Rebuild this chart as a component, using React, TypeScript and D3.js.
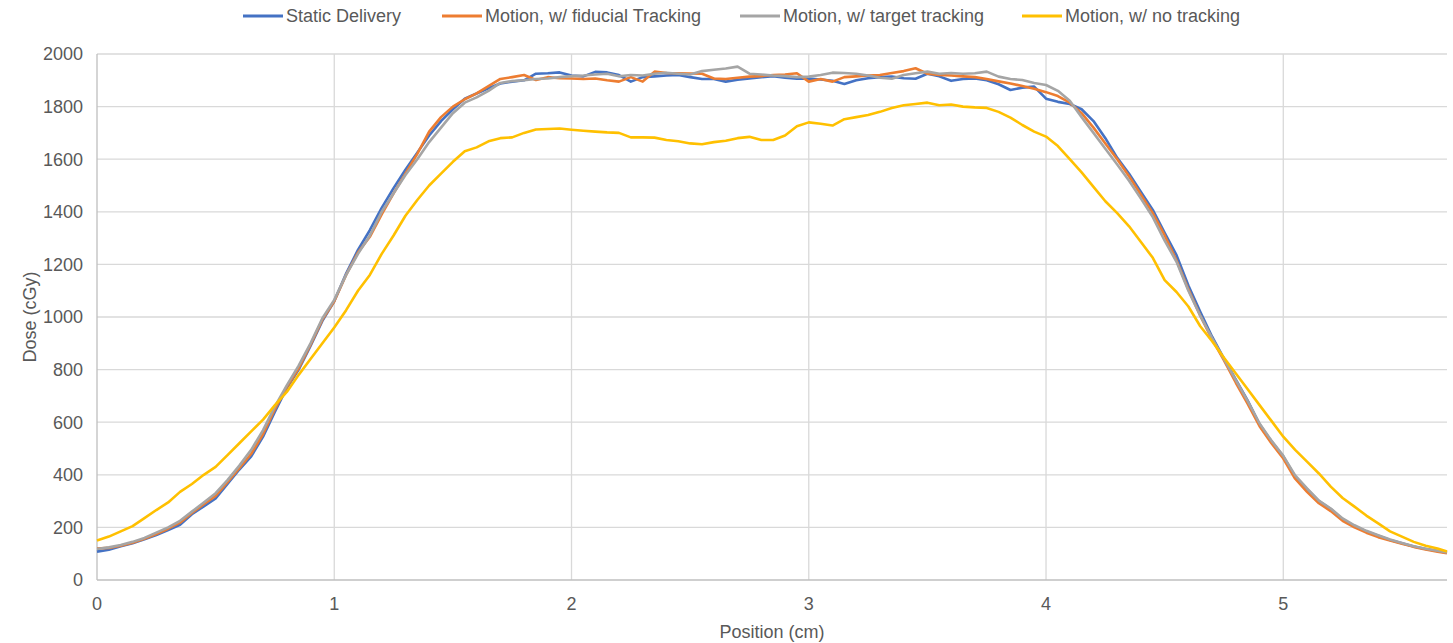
import React from 'react'
import * as d3 from 'd3'

// position (cm)
const positions = [
  0.0, 0.05, 0.1, 0.15, 0.2, 0.25, 0.3, 0.35, 0.4, 0.45, 0.5, 0.55, 0.6, 0.65, 0.7, 0.75, 0.8, 0.85, 0.9, 0.95,
  1.0, 1.05, 1.1, 1.15, 1.2, 1.25, 1.3, 1.35, 1.4, 1.45, 1.5, 1.55, 1.6, 1.65, 1.7, 1.75, 1.8, 1.85, 1.9, 1.95,
  2.0, 2.05, 2.1, 2.15, 2.2, 2.25, 2.3, 2.35, 2.4, 2.45, 2.5, 2.55, 2.6, 2.65, 2.7, 2.75, 2.8, 2.85, 2.9, 2.95,
  3.0, 3.05, 3.1, 3.15, 3.2, 3.25, 3.3, 3.35, 3.4, 3.45, 3.5, 3.55, 3.6, 3.65, 3.7, 3.75, 3.8, 3.85, 3.9, 3.95,
  4.0, 4.05, 4.1, 4.15, 4.2, 4.25, 4.3, 4.35, 4.4, 4.45, 4.5, 4.55, 4.6, 4.65, 4.7, 4.75, 4.8, 4.85, 4.9, 4.95,
  5.0, 5.05, 5.1, 5.15, 5.2, 5.25, 5.3, 5.35, 5.4, 5.45, 5.5, 5.55, 5.6, 5.65, 5.69,
]

const staticDelivery = [
  108, 115, 128, 140, 155, 171, 190, 210, 250, 280, 310, 365, 420, 470, 545, 640, 730, 800, 890, 985,
  1060, 1165, 1255, 1330, 1415, 1490, 1560, 1625, 1690, 1745, 1790, 1830, 1850, 1870, 1888, 1895, 1900, 1925, 1927, 1930,
  1918, 1915, 1932, 1930, 1920, 1895, 1912, 1915, 1918, 1920, 1912, 1905, 1905, 1895, 1902, 1907, 1912, 1916, 1910, 1906,
  1907, 1903, 1898, 1886, 1900, 1908, 1912, 1914, 1908, 1906, 1925, 1915, 1898, 1905, 1907, 1900, 1885, 1863, 1872, 1876,
  1830, 1818, 1810, 1790, 1745, 1680, 1605, 1545, 1475, 1407, 1320, 1235, 1120, 1020, 925, 842, 762, 682, 592, 527,
  470, 392, 345, 300, 270, 230, 205, 185, 168, 152, 140, 127, 118, 110, 104,
]

const fiducialTracking = [
  120, 122, 130, 142, 157, 175, 195, 218, 255, 288, 320, 372, 425, 480, 555, 650, 735, 805, 895, 990,
  1060, 1160, 1245, 1305, 1390, 1470, 1545, 1620, 1705, 1760, 1800, 1828, 1850, 1878, 1905, 1912, 1920, 1901, 1912, 1908,
  1907, 1905, 1907, 1900, 1895, 1912, 1895, 1933, 1928, 1927, 1926, 1925, 1907, 1905, 1910, 1914, 1916, 1920, 1922, 1927,
  1895, 1905, 1895, 1912, 1915, 1918, 1920, 1928, 1935, 1946, 1925, 1920, 1918, 1915, 1912, 1905, 1896, 1888, 1878, 1868,
  1855, 1840, 1815, 1775, 1720, 1660, 1600, 1535, 1465, 1395, 1310, 1215, 1105, 1005, 915, 835, 750, 670, 585, 520,
  462, 385, 335, 292, 262, 225, 200, 180, 163, 150, 138, 126, 116, 108, 102,
]

const targetTracking = [
  118, 124, 133, 145, 160, 180, 200, 225, 260, 295, 330, 380, 435, 495, 570, 660, 740, 815, 900, 995,
  1065, 1160, 1240, 1310, 1400, 1470, 1540, 1600, 1665, 1720, 1775, 1815, 1835, 1860, 1890, 1897, 1900, 1905, 1907, 1912,
  1916, 1918, 1922, 1925, 1915, 1920, 1918, 1925, 1929, 1925, 1922, 1935, 1940, 1945, 1952, 1925, 1922, 1918, 1916, 1912,
  1914, 1920, 1929, 1928, 1925, 1918, 1910, 1906, 1920, 1927, 1933, 1925, 1928, 1925, 1927, 1933, 1914, 1905, 1901, 1890,
  1882, 1860, 1822, 1760, 1700, 1640, 1580, 1518, 1450, 1380, 1290, 1210, 1100, 1005, 920, 840, 760, 680, 595, 530,
  472, 398, 348, 302, 272, 234, 208, 187, 170, 154, 141, 128, 119, 111, 105,
]

const noTracking = [
  150, 165, 185, 205, 235, 266, 295, 335, 365, 400, 430, 475, 520, 565, 610, 665, 715, 780, 840, 900,
  960, 1026, 1100, 1160, 1240, 1310, 1385, 1445, 1500, 1545, 1590, 1630, 1645, 1668, 1680, 1683, 1700, 1713, 1715, 1717,
  1712, 1708, 1705, 1702, 1700, 1683, 1683, 1682, 1673, 1668, 1660, 1657, 1665, 1670, 1680, 1685, 1673, 1673, 1690, 1725,
  1740, 1735, 1728, 1752, 1760, 1768, 1780, 1795, 1805, 1810, 1815, 1805, 1808, 1800, 1797, 1795, 1780, 1758, 1730, 1705,
  1686, 1650, 1600, 1550, 1495, 1440, 1395, 1345, 1285, 1225, 1140, 1095, 1040, 965, 908, 845, 785, 725, 665, 605,
  545, 495, 450, 405, 355, 312, 279, 245, 215, 185, 165, 145, 130, 120, 108,
]

const seriesNames = ['Static Delivery', 'Motion, w/ fiducial Tracking', 'Motion, w/ target tracking', 'Motion, w/ no tracking']
const seriesColors = ['#4472C4', '#ED7D31', '#A5A5A5', '#FFC000']
const seriesValues = [staticDelivery, fiducialTracking, targetTracking, noTracking]

const yTicks = [0, 200, 400, 600, 800, 1000, 1200, 1400, 1600, 1800, 2000]
const xTicks = [0, 1, 2, 3, 4, 5]

const W = 1453
const H = 643
const margin = { top: 54, right: 6, bottom: 63, left: 97 }
const font = '"Liberation Sans", Arial, sans-serif'
const textColor = '#595959'

export default function App() {
  const x = d3.scaleLinear().domain([0, 5.69]).range([margin.left, W - margin.right])
  const y = d3.scaleLinear().domain([0, 2000]).range([H - margin.bottom, margin.top])

  const line = d3
    .line<[number, number]>()
    .x((d) => x(d[0]))
    .y((d) => y(d[1]))

  // legend item starts (left edge of the line sample)
  const legendX = [243, 442, 740, 1022]

  return (
    <svg width={W} height={H} style={{ position: 'absolute', left: 0, top: 0, background: '#fff' }} fontFamily={font}>
      {/* grid */}
      {yTicks.slice(1).map((t) => (
        <line key={'gy' + t} x1={x(0)} x2={W - margin.right} y1={y(t)} y2={y(t)} stroke="#d9d9d9" strokeWidth={1.3} />
      ))}
      {xTicks.slice(1).map((t) => (
        <line key={'gx' + t} x1={x(t)} x2={x(t)} y1={y(0)} y2={y(2000)} stroke="#d9d9d9" strokeWidth={1.3} />
      ))}
      {/* axes */}
      <line x1={x(0)} x2={x(0)} y1={y(0)} y2={y(2000)} stroke="#bfbfbf" strokeWidth={1.3} />
      <line x1={x(0)} x2={W - margin.right} y1={y(0)} y2={y(0)} stroke="#bfbfbf" strokeWidth={1.3} />

      {yTicks.map((t) => (
        <text key={'ty' + t} x={x(0) - 14} y={y(t)} dy="0.35em" textAnchor="end" fontSize={18} fill={textColor}>
          {t}
        </text>
      ))}
      {xTicks.map((t) => (
        <text key={'tx' + t} x={x(t)} y={y(0) + 30} textAnchor="middle" fontSize={18} fill={textColor}>
          {t}
        </text>
      ))}

      <text x={772} y={638} textAnchor="middle" fontSize={18} fill={textColor}>
        Position (cm)
      </text>
      <text transform={`translate(36, ${y(1000)}) rotate(-90)`} textAnchor="middle" fontSize={18} fill={textColor}>
        Dose (cGy)
      </text>

      {/* series */}
      {seriesValues.map((vals, i) => (
        <path
          key={seriesNames[i]}
          d={line(positions.map((p, j) => [p, vals[j]] as [number, number])) || ''}
          fill="none"
          stroke={seriesColors[i]}
          strokeWidth={2.6}
          strokeLinejoin="round"
        />
      ))}

      {/* legend */}
      {seriesNames.map((name, i) => (
        <g key={'lg' + i} transform={`translate(${legendX[i]}, 16)`}>
          <line x1={0} x2={40} y1={0} y2={0} stroke={seriesColors[i]} strokeWidth={3} />
          <text x={43} y={0} dy="0.35em" fontSize={18} fill={textColor}>
            {name}
          </text>
        </g>
      ))}
    </svg>
  )
}
